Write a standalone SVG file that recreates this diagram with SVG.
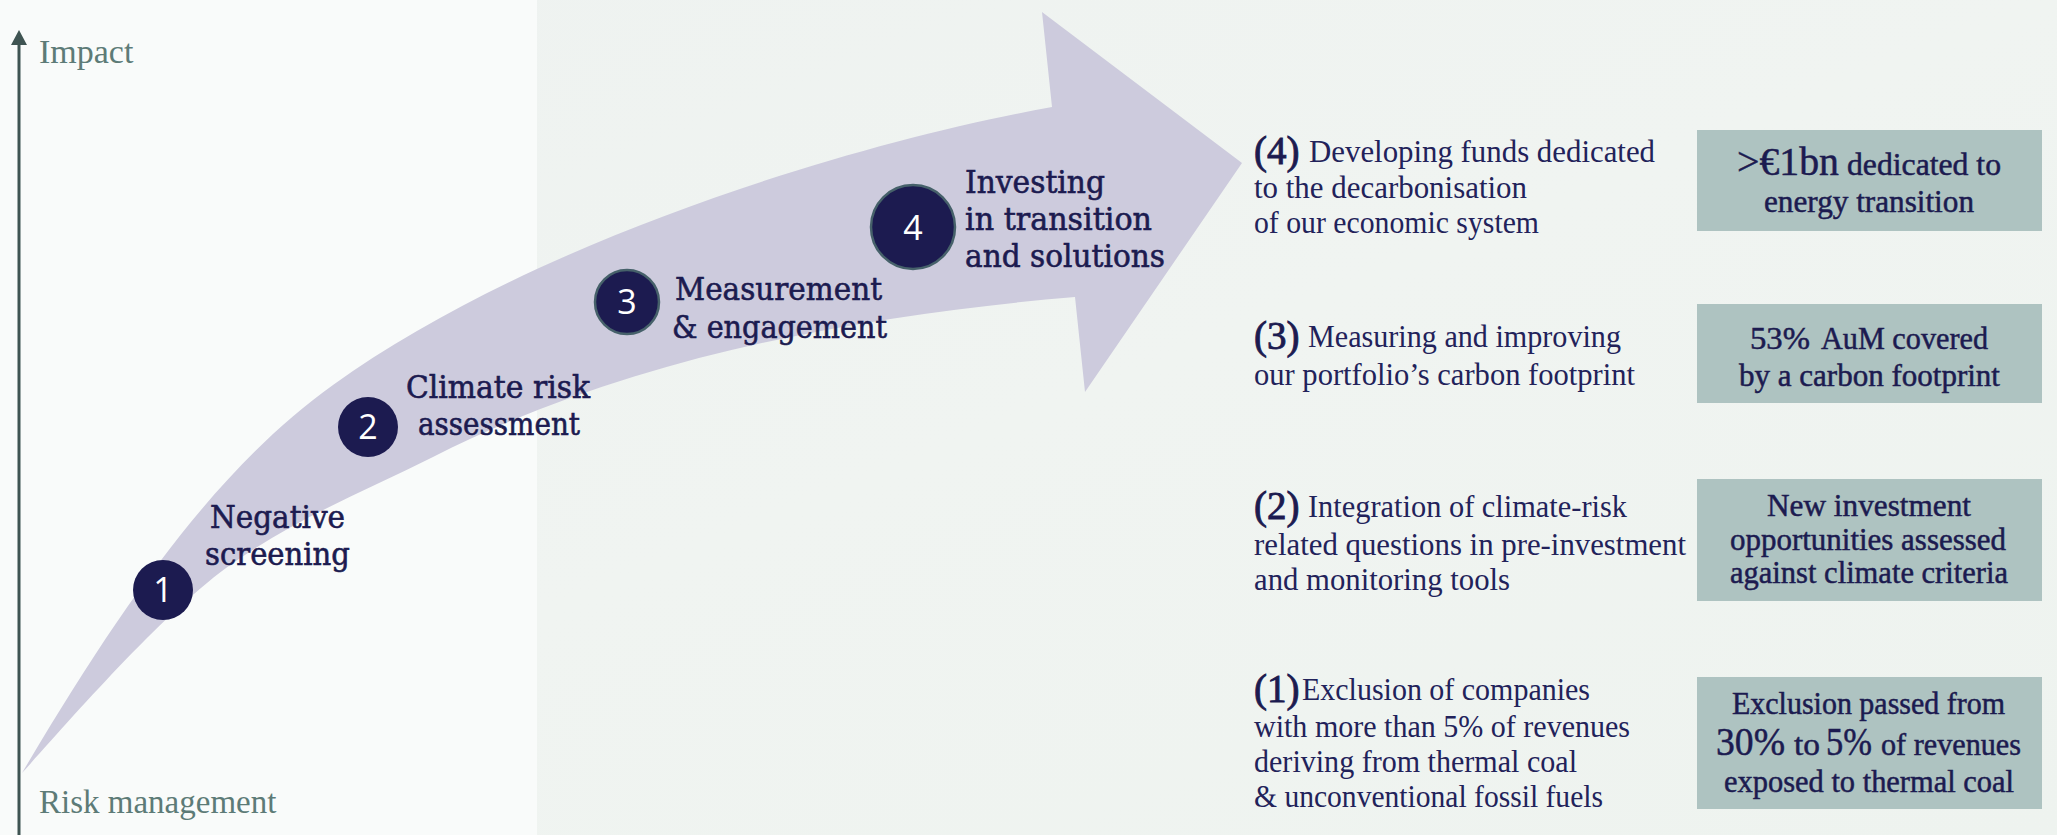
<svg xmlns="http://www.w3.org/2000/svg" width="2057" height="835" viewBox="0 0 2057 835">
<style>
.axl{font-family:"Liberation Serif",serif;fill:#5d7b77}
.step{font-family:"DejaVu Serif","Liberation Serif",serif;font-size:31px;fill:#1c1b50;stroke:#1c1b50;stroke-width:0.6}
.num{font-family:"Open Sans","Noto Sans",sans-serif;font-size:34px;fill:#ffffff;text-anchor:middle}
.desc{font-family:"Liberation Serif",serif;font-size:31px;fill:#22225a}
.par{font-family:"Liberation Serif",serif;font-size:39px;fill:#1c1b50;stroke:#1c1b50;stroke-width:0.9}
.box{fill:#aec3c1}
.bt{font-family:"Liberation Serif",serif;font-size:31px;fill:#1c1b50;stroke:#1c1b50;stroke-width:0.5}
.bb{font-size:40px}
.circ{fill:#1c1b50}
.circb{fill:#1c1b50;stroke:#46616a;stroke-width:2.5}
</style>
<defs>
<linearGradient id="bgr" x1="0" y1="0" x2="1" y2="1">
<stop offset="0" stop-color="#eef2f0"/>
<stop offset="0.5" stop-color="#f0f4f1"/>
<stop offset="1" stop-color="#eef3ef"/>
</linearGradient>
</defs>
<rect x="0" y="0" width="2057" height="835" fill="url(#bgr)"/>
<rect x="0" y="0" width="537" height="835" fill="#f9fbfa"/>

<g id="axis">
<line x1="19" y1="44" x2="19" y2="835" stroke="#3f5452" stroke-width="3"/>
<polygon points="11,45 19,30 27,45" fill="#3f5452"/>
<text class="axl" x="39" y="63" font-size="34">Impact</text>
<text class="axl" x="39" y="813" font-size="33">Risk management</text>
</g>

<g id="connectors">
<path d="M22,773 C132,587 223,464 333,385 C533,241 852,143 1052,107 L1042,12 L1242,163 L1085,392 L1075,297 C875,314 633,354 433,457 C366,491 300,516 233,563 C163,612 72,718 22,773 Z" fill="#cdcbdd"/>
</g>

<g id="step1">
<circle class="circ" cx="163" cy="590" r="30"/>
<text class="num" x="163" y="602">1</text>
<text class="step" x="210" y="528" textLength="135" lengthAdjust="spacingAndGlyphs">Negative</text>
<text class="step" x="205" y="565" textLength="145" lengthAdjust="spacingAndGlyphs">screening</text>
</g>
<g id="step2">
<circle class="circ" cx="368" cy="427" r="30"/>
<text class="num" x="368" y="439">2</text>
<text class="step" x="406" y="398" textLength="184" lengthAdjust="spacingAndGlyphs">Climate risk</text>
<text class="step" x="418" y="435" textLength="162" lengthAdjust="spacingAndGlyphs">assessment</text>
</g>
<g id="step3">
<circle class="circb" cx="627" cy="302" r="32"/>
<text class="num" x="627" y="314">3</text>
<text class="step" x="675" y="300" textLength="207" lengthAdjust="spacingAndGlyphs">Measurement</text>
<text class="step" x="672" y="338" textLength="215" lengthAdjust="spacingAndGlyphs">&amp; engagement</text>
</g>
<g id="step4">
<circle class="circb" cx="913" cy="227" r="42"/>
<text class="num" x="913" y="240" font-size="38">4</text>
<text class="step" x="965" y="193" textLength="140" lengthAdjust="spacingAndGlyphs">Investing</text>
<text class="step" x="965" y="230" textLength="187" lengthAdjust="spacingAndGlyphs">in transition</text>
<text class="step" x="965" y="267" textLength="200" lengthAdjust="spacingAndGlyphs">and solutions</text>
</g>

<g id="desc4">
<text class="par" x="1254" y="164">(4)</text>
<text class="desc" x="1309" y="162" textLength="346" lengthAdjust="spacingAndGlyphs">Developing funds dedicated</text>
<text class="desc" x="1254" y="198" textLength="273" lengthAdjust="spacingAndGlyphs">to the decarbonisation</text>
<text class="desc" x="1254" y="233" textLength="285" lengthAdjust="spacingAndGlyphs">of our economic system</text>
</g>
<g id="desc3">
<text class="par" x="1254" y="349">(3)</text>
<text class="desc" x="1308" y="347" textLength="313" lengthAdjust="spacingAndGlyphs">Measuring and improving</text>
<text class="desc" x="1254" y="385" textLength="381" lengthAdjust="spacingAndGlyphs">our portfolio’s carbon footprint</text>
</g>
<g id="desc2">
<text class="par" x="1254" y="519">(2)</text>
<text class="desc" x="1308" y="517" textLength="319" lengthAdjust="spacingAndGlyphs">Integration of climate-risk</text>
<text class="desc" x="1254" y="555" textLength="432" lengthAdjust="spacingAndGlyphs">related questions in pre-investment</text>
<text class="desc" x="1254" y="590" textLength="256" lengthAdjust="spacingAndGlyphs">and monitoring tools</text>
</g>
<g id="desc1">
<text class="par" x="1254" y="702">(1)</text>
<text class="desc" x="1302" y="700" textLength="288" lengthAdjust="spacingAndGlyphs">Exclusion of companies</text>
<text class="desc" x="1254" y="737" textLength="376" lengthAdjust="spacingAndGlyphs">with more than 5% of revenues</text>
<text class="desc" x="1254" y="772" textLength="323" lengthAdjust="spacingAndGlyphs">deriving from thermal coal</text>
<text class="desc" x="1254" y="807" textLength="349" lengthAdjust="spacingAndGlyphs">&amp; unconventional fossil fuels</text>
</g>

<g id="box4">
<rect class="box" x="1697" y="130" width="345" height="101"/>
<text class="bt bb" x="1737" y="175" textLength="102" lengthAdjust="spacingAndGlyphs">&gt;€1bn</text>
<text class="bt" x="1847" y="175" textLength="154" lengthAdjust="spacingAndGlyphs">dedicated to</text>
<text class="bt" x="1764" y="212" textLength="210" lengthAdjust="spacingAndGlyphs">energy transition</text>
</g>
<g id="box3">
<rect class="box" x="1697" y="304" width="345" height="99"/>
<text class="bt" x="1750" y="349" font-size="37" textLength="60" lengthAdjust="spacingAndGlyphs">53%</text>
<text class="bt" x="1821" y="349" textLength="167" lengthAdjust="spacingAndGlyphs">AuM covered</text>
<text class="bt" x="1739" y="386" textLength="261" lengthAdjust="spacingAndGlyphs">by a carbon footprint</text>
</g>
<g id="box2">
<rect class="box" x="1697" y="479" width="345" height="122"/>
<text class="bt" x="1767" y="516" textLength="204" lengthAdjust="spacingAndGlyphs">New investment</text>
<text class="bt" x="1730" y="550" textLength="276" lengthAdjust="spacingAndGlyphs">opportunities assessed</text>
<text class="bt" x="1730" y="583" textLength="278" lengthAdjust="spacingAndGlyphs">against climate criteria</text>
</g>
<g id="box1">
<rect class="box" x="1697" y="677" width="345" height="132"/>
<text class="bt" x="1732" y="714" textLength="273" lengthAdjust="spacingAndGlyphs">Exclusion passed from</text>
<text class="bt bb" x="1716" y="755" textLength="69" lengthAdjust="spacingAndGlyphs">30%</text>
<text class="bt" x="1794" y="755" textLength="26" lengthAdjust="spacingAndGlyphs">to</text>
<text class="bt bb" x="1826" y="755" textLength="46" lengthAdjust="spacingAndGlyphs">5%</text>
<text class="bt" x="1881" y="755" textLength="140" lengthAdjust="spacingAndGlyphs">of revenues</text>
<text class="bt" x="1724" y="792" textLength="290" lengthAdjust="spacingAndGlyphs">exposed to thermal coal</text>
</g>
</svg>
